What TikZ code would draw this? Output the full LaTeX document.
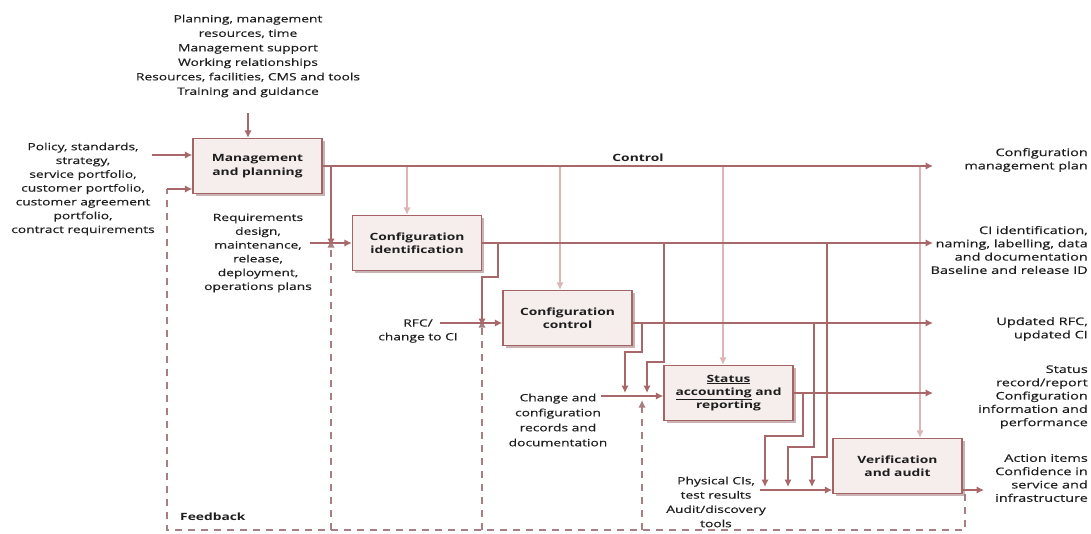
\documentclass[tikz,border=0pt]{standalone}
\usepackage{fontspec}
\setmainfont{Open Sans}[FakeStretch=1.38, UprightFeatures={FakeBold=0.35}]
\usetikzlibrary{arrows.meta,shadows}

\definecolor{flowc}{HTML}{A8686A}
\definecolor{ctlc}{HTML}{DDB5B7}
\definecolor{boxfill}{HTML}{F6EDED}
\definecolor{boxline}{HTML}{A46466}
\definecolor{shade}{HTML}{C9B3B4}
\definecolor{ink}{HTML}{1E1E1E}
\definecolor{dashc}{HTML}{A57F81}

\tikzset{
  proc/.style={draw=boxline, line width=1.3pt, fill=boxfill,
    minimum width=129pt, minimum height=55pt, inner sep=0pt, align=center,
    font=\bfseries\fontsize{10}{13.3}\selectfont, text=ink,
    drop shadow={shadow xshift=2.5pt, shadow yshift=-2.5pt, fill=shade, opacity=1}},
  flow/.style={draw=flowc, line width=1.8pt},
  tip/.style={-{Latex[length=7.5pt,width=7.5pt]}},
  ctl/.style={draw=ctlc, line width=1.5pt, -{Latex[length=7.5pt,width=7.5pt]}},
  fb/.style={draw=dashc, line width=1.8pt, dash pattern=on 7pt off 6pt},
  lbl/.style={font=\fontsize{10}{13.8}\selectfont, text=ink, align=center, inner sep=0pt},
  rlbl/.style={lbl, font=\fontsize{10.5}{13.3}\selectfont, align=right, anchor=east},
  hdr/.style={lbl, font=\bfseries\fontsize{10}{13}\selectfont},
}

\begin{document}
\begin{tikzpicture}[x=1pt,y=-1pt]
\useasboundingbox (0,0) rectangle (1091,533);

% process boxes
\node[proc] (mp) at (257.5,166) {Management\\and planning};
\node[proc] (ci) at (417,243) {Configuration\\identification};
\node[proc] (cc) at (567.5,318) {Configuration\\control};
\node[proc] (sa) at (728.5,393) {\underline{Status}\\\underline{accounting} and\\reporting};
\node[proc] (va) at (897.5,466) {Verification\\and audit};

% output ends on the right
\coordinate (o1) at (933,166);
\coordinate (o2) at (933,243);
\coordinate (o3) at (933,323);
\coordinate (o4) at (933,393);
\coordinate (o5) at (984,490);

% control drops from the top line
\coordinate (d1) at (407,166);
\coordinate (d2) at (560,166);
\coordinate (d3) at (723,166);
\coordinate (d4) at (920,166);
\draw[ctl] (d1) -- (d1 |- ci.north);
\draw[ctl] (d2) -- (d2 |- cc.north);
\draw[ctl] (d3) -- (d3 |- sa.north);
\draw[ctl] (d4) -- (d4 |- va.north);

% feedback loop
\coordinate (fbe) at (965,494);
\coordinate (fbl) at (167,530);
\coordinate (fbt) at (167,189);
\draw[fb] (fbe) -- (fbe |- fbl) -- (fbl) -- (fbt);
\draw[flow,tip] (fbt) -- (fbt -| mp.west);

% main outputs
\draw[flow,tip] (mp.east) -- (o1);
\draw[flow,tip] (ci.east) -- (o2);
\draw[flow,tip] (cc.east |- o3) -- (o3);
\draw[flow,tip] (sa.east) -- (o4);
\draw[flow,tip] (va.east |- o5) -- (o5);

% inputs to management and planning
\coordinate (tin) at (248,113);
\draw[flow,tip] (tin) -- (tin |- mp.north);
\coordinate (lin) at (152,155);
\draw[flow,tip] (lin) -- (lin -| mp.west);

% junction before configuration identification
\coordinate (j1) at (331,243);
\coordinate (rin) at (310,243);
\draw[flow,tip] (j1 |- mp.east) -- ([yshift=-3pt]j1);
\draw[fb,tip] (j1 |- fbl) -- ([yshift=3pt]j1);
\draw[flow,tip] (rin) -- (ci.west);

% junction before configuration control
\coordinate (j2) at (482,323);
\coordinate (rfc) at (440,323);
\coordinate (b2) at (498,243);
\draw[flow,tip] (b2) -- ++(0,34) -| ([yshift=-3pt]j2);
\draw[fb,tip] (j2 |- fbl) -- ([yshift=3pt]j2);
\draw[flow,tip] (rfc) -- (rfc -| cc.west);

% junction before status accounting
\coordinate (cin) at (601,396);
\coordinate (u3) at (642,400);
\coordinate (b3) at (642,323);
\coordinate (b4) at (664,243);
\draw[flow,tip] (cin) -- (cin -| sa.west);
\draw[flow,tip] (b3) -- ++(0,29) -| ++(-17,41);
\draw[flow,tip] (b4) -- ++(0,119) -| ++(-17,31);
\draw[fb,tip] (u3 |- fbl) -- (u3);

% junction before verification and audit
\coordinate (pin) at (760,490);
\coordinate (b5) at (803,393);
\coordinate (b6) at (814,323);
\coordinate (b7) at (827,243);
\draw[flow,tip] (pin) -- (pin -| va.west);
\draw[flow,tip] (b5) -- ++(0,43) -| ++(-38,51);
\draw[flow,tip] (b6) -- ++(0,124) -| ++(-26,40);
\draw[flow,tip] (b7) -- ++(0,214) -| ++(-15,30);

% labels
\node[lbl, font=\fontsize{10}{14.5}\selectfont] (tt) at (248,56) {Planning, management\\resources, time\\Management support\\Working relationships\\Resources, facilities, CMS and tools\\Training and guidance};
\node[lbl] (lt) at (83,189) {Policy, standards,\\strategy,\\service portfolio,\\customer portfolio,\\customer agreement\\portfolio,\\contract requirements};
\node[lbl] (rq) at (258,253) {Requirements\\design,\\maintenance,\\release,\\deployment,\\operations plans};
\node[lbl] (rf) at (418,331) {RFC/\\change to CI};
\node[lbl, font=\fontsize{10}{15}\selectfont] (cr) at (558,420) {Change and\\configuration\\records and\\documentation};
\node[lbl, font=\fontsize{10}{14.3}\selectfont] (pc) at (716,502) {Physical CIs,\\test results\\Audit/discovery\\tools};
\node[hdr] (ct) at (638,158) {Control};
\node[hdr, anchor=west] (fbk) at (180,517) {Feedback};

\node[rlbl] (r1) at (1088,160) {Configuration\\management plan};
\node[rlbl] (r2) at (1088,250) {CI identification,\\naming, labelling, data\\and documentation\\Baseline and release ID};
\node[rlbl] (r3) at (1088,329) {Updated RFC,\\updated CI};
\node[rlbl] (r4) at (1088,397) {Status\\record/report\\Configuration\\information and\\performance};
\node[rlbl] (r5) at (1088,478) {Action items\\Confidence in\\service and\\infrastructure};
\end{tikzpicture}
\end{document}
